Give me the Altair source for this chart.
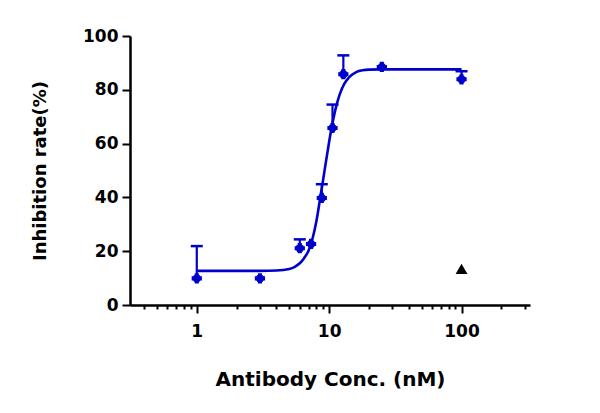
import altair as alt
import pandas as pd

# measured points
conc = [1, 3, 6, 7.3, 8.8, 10.6, 12.8, 25, 100]
inhib = [9.9, 9.9, 21.1, 22.7, 39.8, 65.8, 85.8, 88.5, 83.9]
err_top = [21.9, None, 24.4, None, 44.9, 74.5, 92.8, None, 86.9]

# fitted curve
curve_x = [1, 2, 3, 4, 5, 5.5, 6, 6.5, 7, 7.5, 8, 8.5, 9, 9.5, 10, 10.5,
           11, 11.5, 12, 13, 14, 16, 18, 20, 25, 30, 50, 100]
curve_y = [12.7, 12.7, 12.7, 12.8, 13.4, 14.2, 15.5, 17.6, 20.3, 24.8, 31.0,
           38.8, 46.5, 53.9, 60.7, 66.6, 71.4, 75.2, 78.2, 82.2, 84.4, 86.6,
           87.3, 87.5, 87.6, 87.6, 87.6, 87.6]

# control (triangle)
ctrl_x = [100]
ctrl_y = [13.4]

x_ticks = [0.4, 0.5, 0.6, 0.7, 0.8, 0.9, 1, 2, 3, 4, 5, 6, 7, 8, 9, 10,
           20, 30, 40, 50, 60, 70, 80, 90, 100, 200, 300]
y_ticks = [0, 20, 40, 60, 80, 100]

BLUE = "#0000CD"
FONT = "DejaVu Sans"

pts = pd.DataFrame({"conc": conc, "inhib": inhib, "top": err_top})
err = pts.dropna(subset=["top"])
curve = pd.DataFrame({"conc": curve_x, "inhib": curve_y})
ctrl = pd.DataFrame({"conc": ctrl_x, "inhib": ctrl_y})

xscale = alt.Scale(type="log", domain=[0.313, 329], nice=False)
yscale = alt.Scale(domain=[0, 100], nice=False)

xaxis = alt.Axis(
    title="Antibody Conc. (nM)",
    values=x_ticks,
    labelExpr="datum.value == 1 ? '1' : datum.value == 10 ? '10' : datum.value == 100 ? '100' : ''",
    tickSize={"condition": {"test": "datum.value == 1 || datum.value == 10 || datum.value == 100", "value": 8}, "value": 4},
    labelPadding=10,
    labelFontSize=17,
    titleFontSize=20,
    titlePadding=30,
    grid=False,
)
yaxis = alt.Axis(
    title="Inhibition rate(%)",
    values=y_ticks,
    tickSize=8,
    labelPadding=4,
    labelFontSize=17,
    titleFontSize=18,
    titlePadding=33,
    grid=False,
)

X = alt.X("conc:Q", scale=xscale, axis=xaxis)
Y = alt.Y("inhib:Q", scale=yscale, axis=yaxis)

bars = alt.Chart(err).mark_rule(color=BLUE, strokeWidth=2.2, opacity=1).encode(
    x=alt.X("conc:Q", scale=xscale),
    y=alt.Y("inhib:Q", scale=yscale),
    y2="top:Q",
)
caps = alt.Chart(err).mark_tick(color=BLUE, orient="horizontal", size=12, thickness=2.5, opacity=1).encode(
    x=alt.X("conc:Q", scale=xscale),
    y=alt.Y("top:Q", scale=yscale),
)
line = alt.Chart(curve).mark_line(color=BLUE, strokeWidth=2.6, interpolate="monotone").encode(x=X, y=Y)
dots = alt.Chart(pts).mark_point(shape="circle", filled=True, color=BLUE, size=70, opacity=1).encode(
    x=alt.X("conc:Q", scale=xscale), y=alt.Y("inhib:Q", scale=yscale))
crosses = alt.Chart(pts).mark_point(shape="cross", filled=True, color=BLUE, size=105, opacity=1).encode(
    x=alt.X("conc:Q", scale=xscale), y=alt.Y("inhib:Q", scale=yscale))
tri = alt.Chart(ctrl).mark_point(shape="triangle-up", filled=True, color="black", size=140, opacity=1).encode(
    x=alt.X("conc:Q", scale=xscale), y=alt.Y("inhib:Q", scale=yscale))

chart = alt.layer(line, bars, caps, dots, crosses, tri).properties(
    width=400,
    height=269,
    autosize=alt.AutoSizeParams(type="none"),
    padding={"left": 122, "top": 28, "right": 62, "bottom": 100},
).configure_view(stroke=None).configure_axis(
    domainColor="black",
    domainWidth=2.5,
    tickColor="black",
    tickWidth=2,
    labelColor="black",
    labelFont=FONT,
    labelFontWeight="bold",
    titleColor="black",
    titleFont=FONT,
    titleFontWeight="bold",
)

chart.save("out.html", embed_options={"renderer": "svg", "actions": False})
